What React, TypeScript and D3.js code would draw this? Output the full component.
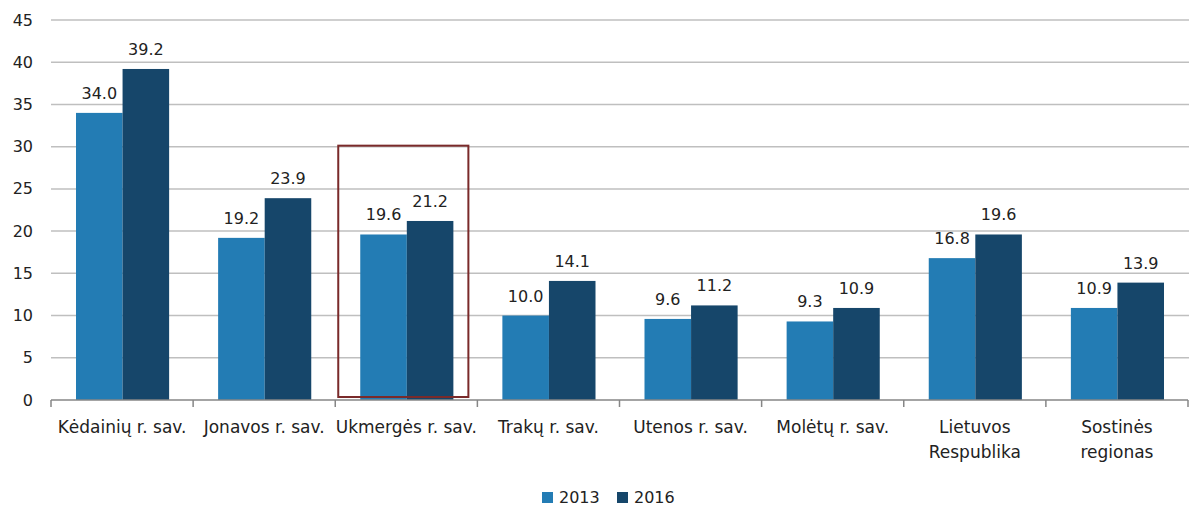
import * as d3 from "d3";
import React, { useEffect, useRef } from "react";

const categories = [
  "Kėdainių r. sav.",
  "Jonavos r. sav.",
  "Ukmergės r. sav.",
  "Trakų r. sav.",
  "Utenos r. sav.",
  "Molėtų r. sav.",
  "Lietuvos Respublika",
  "Sostinės regionas",
];
const values2013 = [34.0, 19.2, 19.6, 10.0, 9.6, 9.3, 16.8, 10.9];
const values2016 = [39.2, 23.9, 21.2, 14.1, 11.2, 10.9, 19.6, 13.9];
const seriesNames = ["2013", "2016"];
const yTicks = [0, 5, 10, 15, 20, 25, 30, 35, 40, 45];
const highlighted = "Ukmergės r. sav.";
const highlightTop = 30;

const App: React.FC = () => {
  const ref = useRef<SVGSVGElement | null>(null);

  useEffect(() => {
    if (!ref.current) return;
    d3.select(ref.current).selectAll("*").remove();

    const width = 1190;
    const height = 508;
    const margin = { top: 20, right: 2, bottom: 108, left: 51 };
    const font = "'DejaVu Sans', sans-serif";
    const colors = ["#237cb4", "#16466a"];

    const svg = d3.select(ref.current).attr("width", width).attr("height", height);

    const x = d3
      .scaleBand<string>()
      .domain(categories)
      .range([margin.left, width - margin.right])
      .paddingInner(0)
      .paddingOuter(0);

    const y = d3
      .scaleLinear()
      .domain([0, 45])
      .range([height - margin.bottom, margin.top]);

    // inner scale for the two series within a category
    const groupPad = 25;
    const xs = d3
      .scaleBand<string>()
      .domain(seriesNames)
      .range([groupPad, x.bandwidth() - groupPad + 1]);

    // Gridlines
    svg
      .append("g")
      .selectAll("line")
      .data(yTicks.filter((t) => t > 0))
      .join("line")
      .attr("x1", margin.left)
      .attr("x2", width - margin.right + 1)
      .attr("y1", (d) => y(d))
      .attr("y2", (d) => y(d))
      .attr("stroke", "#bfbfbf")
      .attr("stroke-width", 1.5);

    // Y labels
    svg
      .append("g")
      .selectAll("text")
      .data(yTicks)
      .join("text")
      .attr("x", 33)
      .attr("y", (d) => y(d))
      .attr("dy", "0.35em")
      .attr("text-anchor", "end")
      .attr("font-family", font)
      .attr("font-size", 16)
      .attr("fill", "#222")
      .text((d) => d);

    const series = [values2013, values2016];
    series.forEach((vals, si) => {
      const g = svg.append("g");
      g.selectAll("rect")
        .data(vals)
        .join("rect")
        .attr("x", (_, i) => x(categories[i])! + xs(seriesNames[si])!)
        .attr("y", (d) => y(d))
        .attr("width", xs.bandwidth())
        .attr("height", (d) => y(0) - y(d))
        .attr("fill", colors[si]);
      g.selectAll("text")
        .data(vals)
        .join("text")
        .attr("x", (_, i) => x(categories[i])! + xs(seriesNames[si])! + xs.bandwidth() / 2)
        .attr("y", (d) => y(d) - 14)
        .attr("text-anchor", "middle")
        .attr("font-family", font)
        .attr("font-size", 16)
        .attr("fill", "#222")
        .text((d) => d.toFixed(1));
    });

    // X axis line + ticks
    const axisY = y(0);
    svg
      .append("line")
      .attr("x1", margin.left)
      .attr("x2", width - margin.right)
      .attr("y1", axisY)
      .attr("y2", axisY)
      .attr("stroke", "#868686")
      .attr("stroke-width", 1.5);
    const bounds = categories.map((c) => x(c)!).concat([width - margin.right]);
    svg
      .append("g")
      .selectAll("line")
      .data(bounds)
      .join("line")
      .attr("x1", (d) => d)
      .attr("x2", (d) => d)
      .attr("y1", axisY)
      .attr("y2", axisY + 7)
      .attr("stroke", "#868686")
      .attr("stroke-width", 1.5);

    // Category labels
    const catG = svg.append("g");
    categories.forEach((c) => {
      const cx = x(c)! + x.bandwidth() / 2;
      const words = c.split(" ");
      const lines = words.length === 2 && !c.includes(".") ? words : [c];
      const t = catG
        .append("text")
        .attr("text-anchor", "middle")
        .attr("font-family", font)
        .attr("font-size", 17)
        .attr("fill", "#222");
      lines.forEach((ln, li) => {
        t.append("tspan")
          .attr("x", cx)
          .attr("y", axisY + 33 + li * 25)
          .text(ln);
      });
    });

    // Highlight box
    svg
      .append("rect")
      .attr("x", x(highlighted)! + 3)
      .attr("y", y(highlightTop) - 1)
      .attr("width", x.bandwidth() - 12)
      .attr("height", y(0) - y(highlightTop) - 2)
      .attr("fill", "none")
      .attr("stroke", "#7a2a2a")
      .attr("stroke-width", 2);

    // Legend
    const legend = svg.append("g");
    const legendX = [542, 617];
    seriesNames.forEach((s, i) => {
      legend
        .append("rect")
        .attr("x", legendX[i])
        .attr("y", 492)
        .attr("width", 11)
        .attr("height", 11)
        .attr("fill", colors[i]);
      legend
        .append("text")
        .attr("x", legendX[i] + 17)
        .attr("y", 503)
        .attr("font-family", font)
        .attr("font-size", 16)
        .attr("fill", "#222")
        .text(s);
    });
  }, []);

  return (
    <svg
      ref={ref}
      style={{ position: "absolute", left: 0, top: 0, display: "block" }}
    ></svg>
  );
};

export default App;
